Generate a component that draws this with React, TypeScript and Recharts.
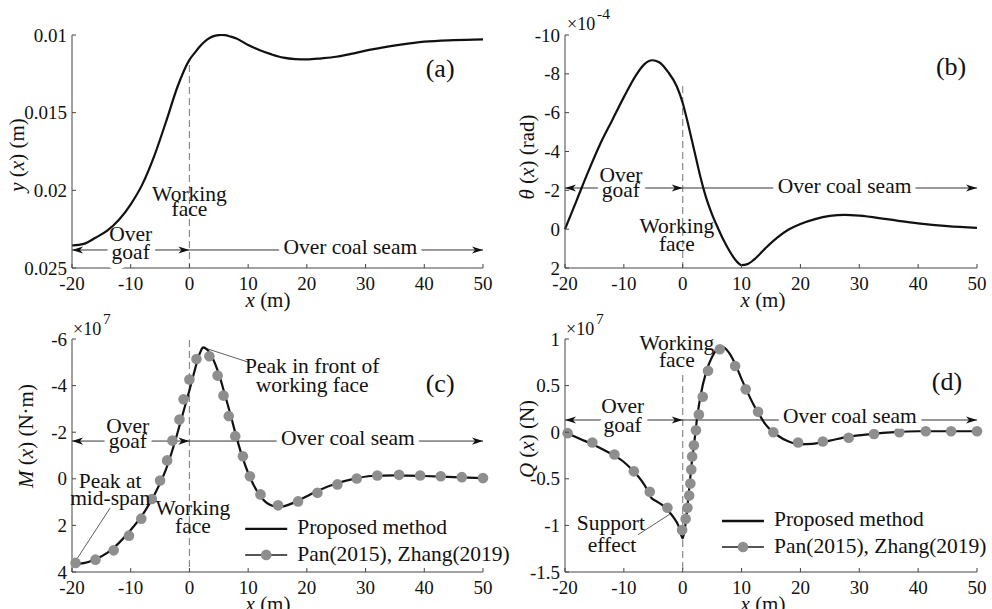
import type { ReactNode } from "react";
import { LineChart, Line, XAxis, YAxis, ReferenceLine, ReferenceDot } from "recharts";

const SERIF = '"Liberation Serif", "Times New Roman", serif';
const INK = "#111";
const AXIS = "#444";
const GUIDE = "#333";
const DOT = "#8e8e8e";
const W = 496;

const X_TICKS = [-20, -10, 0, 10, 20, 30, 40, 50];

// (a) deflection y(x), m
const DEFL_X = [-20, -18, -16, -14, -12, -10, -8, -6, -4, -2, 0, 1, 2, 3, 4, 5, 5.5, 6, 7, 8, 10, 12, 14, 16, 18, 20, 22.5, 25, 27.5, 30, 33, 36, 40, 45, 50];
const DEFL_Y = [0.02355, 0.02345, 0.02305, 0.0226, 0.0219, 0.0209, 0.0196, 0.0178, 0.0156, 0.0133, 0.0116, 0.0111, 0.01065, 0.0103, 0.01009, 0.01001, 0.01, 0.01001, 0.0101, 0.01022, 0.01065, 0.01098, 0.01125, 0.01146, 0.01155, 0.01157, 0.0115, 0.0114, 0.01122, 0.01101, 0.0108, 0.01062, 0.01043, 0.01033, 0.01028];
const DEFL_TICKS = [0.01, 0.015, 0.02, 0.025];

// (b) rotation θ(x), ×1e-4 rad
const ROT_X = [-20, -18, -16, -14, -12, -10, -8, -6.5, -5.2, -4, -2.5, -1, 0, 1, 2, 3, 4, 5, 6, 7, 8, 9, 10, 11, 12, 14, 16, 18, 20, 22.5, 25, 27.5, 30, 35, 40, 45, 50];
const ROT_Y = [0, -1.5, -3.0, -4.4, -5.6, -6.8, -7.9, -8.5, -8.7, -8.6, -8.1, -7.35, -6.5, -5.3, -4.0, -2.7, -1.6, -0.75, -0.05, 0.6, 1.15, 1.6, 1.85, 1.8, 1.6, 1.0, 0.45, 0.02, -0.27, -0.52, -0.68, -0.74, -0.7, -0.5, -0.3, -0.16, -0.07];
const ROT_TICKS = [-10, -8, -6, -4, -2, 0, 2];

// (c) bending moment M(x), ×1e7 N·m
const MOM_X = [-20, -18, -16, -14, -12, -10, -8, -6, -4, -3, -2, -1, 0, 1, 1.5, 2, 2.3, 3, 4, 5, 6, 7, 8, 9, 10, 11, 12, 13, 14, 15, 16, 18, 20, 22, 25, 28, 31, 35, 40, 45, 50];
const MOM_Y = [3.67, 3.62, 3.45, 3.18, 2.75, 2.2, 1.55, 0.7, -0.4, -1.15, -2.0, -2.9, -3.8, -4.75, -5.2, -5.52, -5.64, -5.55, -5.15, -4.5, -3.65, -2.75, -1.8, -0.95, -0.25, 0.3, 0.72, 1.0, 1.15, 1.2, 1.18, 1.0, 0.75, 0.5, 0.2, 0.0, -0.12, -0.15, -0.12, -0.07, -0.03];
const MOM_REF_X = [-19.4, -16.0, -12.9, -10.3, -8.2, -6.4, -5.0, -3.8, -2.9, -1.7, -1.0, 0.0, 1.2, 3.4, 4.8, 5.8, 6.7, 7.8, 9.1, 10.3, 12.1, 15.1, 18.5, 21.8, 25.2, 28.5, 32.0, 35.7, 39.3, 42.8, 46.4, 50.0];
const MOM_REF_Y = [3.61, 3.47, 3.07, 2.44, 1.71, 0.87, 0.07, -0.79, -1.64, -2.54, -3.41, -4.26, -5.14, -5.26, -4.43, -3.57, -2.69, -1.83, -0.97, -0.11, 0.67, 1.14, 0.97, 0.6, 0.24, -0.01, -0.14, -0.17, -0.14, -0.11, -0.07, -0.03];
const MOM_TICKS = [-6, -4, -2, 0, 2, 4];

// (d) shear force Q(x), ×1e7 N
const SHEAR_X = [-20, -17.5, -15, -12.5, -10, -8.5, -7, -6, -5.4, -4.5, -3.5, -2.5, -1.5, -0.75, 0, 0.5, 1, 1.5, 2, 2.5, 3, 4, 5, 6, 6.5, 7, 8, 9, 10, 11, 12, 13, 14, 15, 16, 18, 20, 22, 25, 28, 32, 36, 40, 45, 50];
const SHEAR_Y = [0, -0.07, -0.14, -0.22, -0.32, -0.41, -0.52, -0.62, -0.7, -0.74, -0.78, -0.84, -0.92, -1.0, -1.14, -0.97, -0.67, -0.35, -0.09, 0.18, 0.38, 0.65, 0.81, 0.9, 0.92, 0.91, 0.84, 0.72, 0.57, 0.43, 0.3, 0.19, 0.09, 0.02, -0.03, -0.1, -0.13, -0.125, -0.09, -0.05, -0.02, 0.0, 0.01, 0.01, 0.01];
const SHEAR_REF_X = [-19.55, -15.35, -11.6, -8.3, -5.6, -2.6, -0.1, 0.5, 0.8, 1.1, 1.3, 1.45, 1.6, 1.9, 2.25, 2.75, 3.4, 4.3, 6.3, 8.9, 10.7, 12.8, 15.4, 19.6, 23.8, 28.2, 32.5, 36.8, 41.3, 45.6, 50];
const SHEAR_REF_Y = [-0.01, -0.11, -0.24, -0.42, -0.64, -0.81, -1.05, -0.93, -0.81, -0.68, -0.55, -0.4, -0.26, -0.14, 0.02, 0.19, 0.38, 0.66, 0.89, 0.71, 0.46, 0.22, 0.0, -0.11, -0.1, -0.06, -0.02, 0.0, 0.01, 0.01, 0.01];
const SHEAR_TICKS = [-1.5, -1, -0.5, 0, 0.5, 1];

const pts = (xs: number[], ys: number[]) => xs.map((x, i) => ({ x, v: ys[i] }));

// inward ticks, labels outside
const XTick = (p: any) => (
  <g>
    <line x1={p.x} x2={p.x} y1={p.y} y2={p.y - 4} stroke={AXIS} />
    <text x={p.x} y={p.y + 22} textAnchor="middle" fontSize={19} fontFamily={SERIF} fill={INK}>
      {p.payload.value}
    </text>
  </g>
);

const YTick = (p: any) => (
  <g>
    <line x1={p.x} x2={p.x + 4} y1={p.y} y2={p.y} stroke={AXIS} />
    <text x={p.x - 5} y={p.y + 6.5} textAnchor="end" fontSize={19} fontFamily={SERIF} fill={INK}>
      {p.payload.value}
    </text>
  </g>
);

const head = (x: number, y: number, dir: number) => (
  <polygon
    points={`${x},${y} ${x - dir * 11},${y - 3.6} ${x - dir * 8},${y} ${x - dir * 11},${y + 3.6}`}
    fill={INK}
  />
);

function arrow(id: string, from: number, to: number, y: number, both: boolean) {
  return (
    <ReferenceLine
      key={id}
      segment={[{ x: from, y }, { x: to, y }]}
      ifOverflow="visible"
      shape={(p: any) => {
        const l = Math.min(p.x1, p.x2);
        const r = Math.max(p.x1, p.x2);
        return (
          <g>
            <line x1={l} x2={r} y1={p.y1} y2={p.y1} stroke={GUIDE} strokeWidth={1} />
            {both && head(l, p.y1, -1)}
            {head(r, p.y1, 1)}
          </g>
        );
      }}
    />
  );
}

function leader(id: string, x1: number, y1: number, x2: number, y2: number) {
  return (
    <ReferenceLine
      key={id}
      segment={[{ x: x1, y: y1 }, { x: x2, y: y2 }]}
      ifOverflow="visible"
      stroke={GUIDE}
      strokeWidth={0.8}
    />
  );
}

function face(id: string, from: number, to: number) {
  return (
    <ReferenceLine
      key={id}
      segment={[{ x: 0, y: from }, { x: 0, y: to }]}
      ifOverflow="visible"
      stroke="#8a8a8a"
      strokeWidth={1.2}
      strokeDasharray="7 4"
    />
  );
}

function note(id: string, x: number, y: number, content: ReactNode, size = 21.5, halo = false) {
  const haloProps = halo
    ? { stroke: "#fff", strokeWidth: 11, strokeLinejoin: "round" as const, paintOrder: "stroke" }
    : {};
  return (
    <ReferenceDot
      key={id}
      x={x}
      y={y}
      r={0}
      ifOverflow="visible"
      shape={(p: any) => (
        <text x={p.cx} y={p.cy} textAnchor="middle" fontSize={size} fontFamily={SERIF} fill={INK} {...haloProps}>
          {content}
        </text>
      )}
    />
  );
}

function legend(id: string, x: number, y: number) {
  return (
    <ReferenceDot
      key={id}
      x={x}
      y={y}
      r={0}
      ifOverflow="visible"
      shape={(p: any) => (
        <g fontFamily={SERIF} fontSize={21.5} fill={INK}>
          <line x1={p.cx} x2={p.cx + 42} y1={p.cy} y2={p.cy} stroke={INK} strokeWidth={2.4} />
          <text x={p.cx + 52} y={p.cy + 5}>Proposed method</text>
          <line x1={p.cx} x2={p.cx + 42} y1={p.cy + 26} y2={p.cy + 26} stroke="#555" strokeWidth={2} />
          <circle cx={p.cx + 21} cy={p.cy + 26} r={5.3} fill={DOT} />
          <text x={p.cx + 52} y={p.cy + 32}>Pan(2015), Zhang(2019)</text>
        </g>
      )}
    />
  );
}

const it = (s: string) => <tspan fontStyle="italic">{s}</tspan>;

function YTitle({ x, y, children }: { x: number; y: number; children: ReactNode }) {
  return (
    <text transform={`translate(${x},${y}) rotate(-90)`} textAnchor="middle" dominantBaseline="central" fontSize={21}>
      {children}
    </text>
  );
}

function XTitle({ x, y }: { x: number; y: number }) {
  return (
    <text x={x} y={y} textAnchor="middle" fontSize={21}>
      {it("x")} (m)
    </text>
  );
}

function Scale({ x, y, exp }: { x: number; y: number; exp: string }) {
  return (
    <g>
      <text x={x} y={y} fontSize={18}>×10</text>
      <text x={x + 30} y={y - 11} fontSize={15.5}>{exp}</text>
    </g>
  );
}

type Plot = { left: number; top: number; right: number; bottom: number };

function Panel(props: {
  x: number;
  y: number;
  h: number;
  plot: Plot;
  domain: [number, number];
  ticks: number[];
  reversed?: boolean;
  overlay: ReactNode;
  children: ReactNode;
}) {
  const { x, y, h, plot } = props;
  return (
    <div style={{ position: "absolute", left: x, top: y, width: W, height: h }}>
      <LineChart width={W} height={h} margin={{ top: plot.top, right: W - plot.right, bottom: 0, left: 0 }}>
        <XAxis
          type="number"
          dataKey="x"
          domain={[-20, 50]}
          ticks={X_TICKS}
          interval={0}
          height={h - plot.bottom}
          axisLine={{ stroke: AXIS }}
          tickLine={false}
          tickSize={0}
          tickMargin={0}
          tick={XTick}
        />
        <YAxis
          type="number"
          domain={props.domain}
          ticks={props.ticks}
          interval={0}
          reversed={props.reversed}
          width={plot.left}
          axisLine={{ stroke: AXIS }}
          tickLine={false}
          tickSize={0}
          tickMargin={0}
          tick={YTick}
        />
        {props.children}
      </LineChart>
      <svg
        width={W}
        height={h}
        style={{ position: "absolute", left: 0, top: 0, overflow: "visible", pointerEvents: "none" }}
        fontFamily={SERIF}
        fill={INK}
      >
        {props.overlay}
      </svg>
    </div>
  );
}

const curve = (xs: number[], ys: number[]) => (
  <Line
    data={pts(xs, ys)}
    dataKey="v"
    type="monotone"
    stroke={INK}
    strokeWidth={2.2}
    dot={false}
    activeDot={false}
    isAnimationActive={false}
  />
);

const markers = (xs: number[], ys: number[]) => (
  <Line
    data={pts(xs, ys)}
    dataKey="v"
    stroke="none"
    dot={{ r: 5.3, fill: DOT, stroke: "none" }}
    activeDot={false}
    isAnimationActive={false}
  />
);

export default function App() {
  return (
    <div
      style={{
        position: "absolute",
        left: 0,
        top: 0,
        width: 992,
        height: 609,
        background: "#fff",
        overflow: "hidden",
        fontFamily: SERIF,
      }}
    >
      <style>{`.recharts-surface{overflow:visible}`}</style>

      <Panel
        x={0}
        y={0}
        h={300}
        plot={{ left: 72, top: 35, right: 483, bottom: 268 }}
        domain={[0.01, 0.025]}
        ticks={DEFL_TICKS}
        reversed
        overlay={
          <>
            <YTitle x={17} y={155}>
              {it("y")} ({it("x")}) (m)
            </YTitle>
            <XTitle x={268} y={307} />
          </>
        }
      >
        {face("fa", 0.01193, 0.025)}
        {arrow("a1", -20, 0, 0.02384, true)}
        {arrow("a2", 0, 50, 0.02384, false)}
        {curve(DEFL_X, DEFL_Y)}
        {note("a3", 0, 0.02069, "Working")}
        {note("a4", 0, 0.02165, "face")}
        {note("a6", -10, 0.02442, "goaf", 21.5, true)}
        {note("a5", -10, 0.02326, "Over")}
        {note("a7", 27.4, 0.0241, "Over coal seam", 21.5, true)}
        {note("a8", 42.7, 0.0127, "(a)", 26)}
      </Panel>

      <Panel
        x={496}
        y={0}
        h={300}
        plot={{ left: 69, top: 35, right: 481, bottom: 268 }}
        domain={[-10, 2]}
        ticks={ROT_TICKS}
        reversed
        overlay={
          <>
            <YTitle x={31} y={157}>
              {it("θ")} ({it("x")}) (rad)
            </YTitle>
            <XTitle x={267} y={307} />
            <Scale x={71} y={30} exp="-4" />
          </>
        }
      >
        {face("fb", -7.37, 2)}
        {arrow("b1", -20, 0, -2.12, true)}
        {arrow("b2", 0, 50, -2.12, false)}
        {curve(ROT_X, ROT_Y)}
        {note("b4", -10.5, -1.66, "goaf", 21.5, true)}
        {note("b3", -10.5, -2.43, "Over")}
        {note("b5", 27.5, -1.86, "Over coal seam", 21.5, true)}
        {note("b6", -1, 0.2, "Working")}
        {note("b7", -1, 1.12, "face")}
        {note("b8", 45.6, -7.94, "(b)", 26)}
      </Panel>

      <Panel
        x={0}
        y={300}
        h={309}
        plot={{ left: 72, top: 39, right: 483, bottom: 272 }}
        domain={[-6, 4]}
        ticks={MOM_TICKS}
        reversed
        overlay={
          <>
            <YTitle x={26} y={136}>
              {it("M")} ({it("x")}) (N·m)
            </YTitle>
            <XTitle x={268} y={311} />
            <Scale x={73} y={35} exp="7" />
          </>
        }
      >
        {face("fc", -5.96, 4)}
        {arrow("c1", -20, 0, -1.62, true)}
        {arrow("c2", 0, 50, -1.62, false)}
        {leader("c3", 2.3, -5.64, 10, -5.01)}
        {leader("c4", -13.5, 1.25, -19.5, 3.57)}
        {markers(MOM_REF_X, MOM_REF_Y)}
        {curve(MOM_X, MOM_Y)}
        {note("c6", -10.5, -1.32, "goaf", 21.5, true)}
        {note("c5", -10.5, -1.97, "Over")}
        {note("c7", 27, -1.45, "Over coal seam", 21.5, true)}
        {note("c8", 20.9, -4.54, "Peak in front of")}
        {note("c9", 20.9, -3.73, "working face")}
        {note("c10", -13.5, 0.4, "Peak at")}
        {note("c11", -13.5, 1.12, "mid-span")}
        {note("c12", 0.6, 1.55, "Working")}
        {note("c13", 0.6, 2.33, "face")}
        {note("c14", 42.7, -3.73, "(c)", 26)}
        {legend("c15", 9.5, 2.15)}
      </Panel>

      <Panel
        x={496}
        y={300}
        h={309}
        plot={{ left: 69, top: 39, right: 481, bottom: 272 }}
        domain={[-1.5, 1]}
        ticks={SHEAR_TICKS}
        overlay={
          <>
            <YTitle x={31} y={139}>
              {it("Q")} ({it("x")}) (N)
            </YTitle>
            <XTitle x={267} y={311} />
            <Scale x={70} y={35} exp="7" />
          </>
        }
      >
        {face("fd", 0.614, -1.5)}
        {arrow("d1", -20, 0, 0.131, true)}
        {arrow("d2", 0, 50, 0.131, false)}
        {leader("d3", -7.6, -1.1, -2.2, -0.88)}
        {markers(SHEAR_REF_X, SHEAR_REF_Y)}
        {curve(SHEAR_X, SHEAR_Y)}
        {note("d4", -1, 0.882, "Working")}
        {note("d5", -1, 0.7, "face")}
        {note("d7", -10.2, 0.0, "goaf", 21.5, true)}
        {note("d6", -10.2, 0.206, "Over")}
        {note("d8", 28.4, 0.099, "Over coal seam", 21.5, true)}
        {note("d9", -12.2, -1.05, "Support")}
        {note("d10", -12, -1.29, "effect")}
        {note("d11", 44.9, 0.453, "(d)", 26)}
        {legend("d12", 6.67, -0.953)}
      </Panel>
    </div>
  );
}
